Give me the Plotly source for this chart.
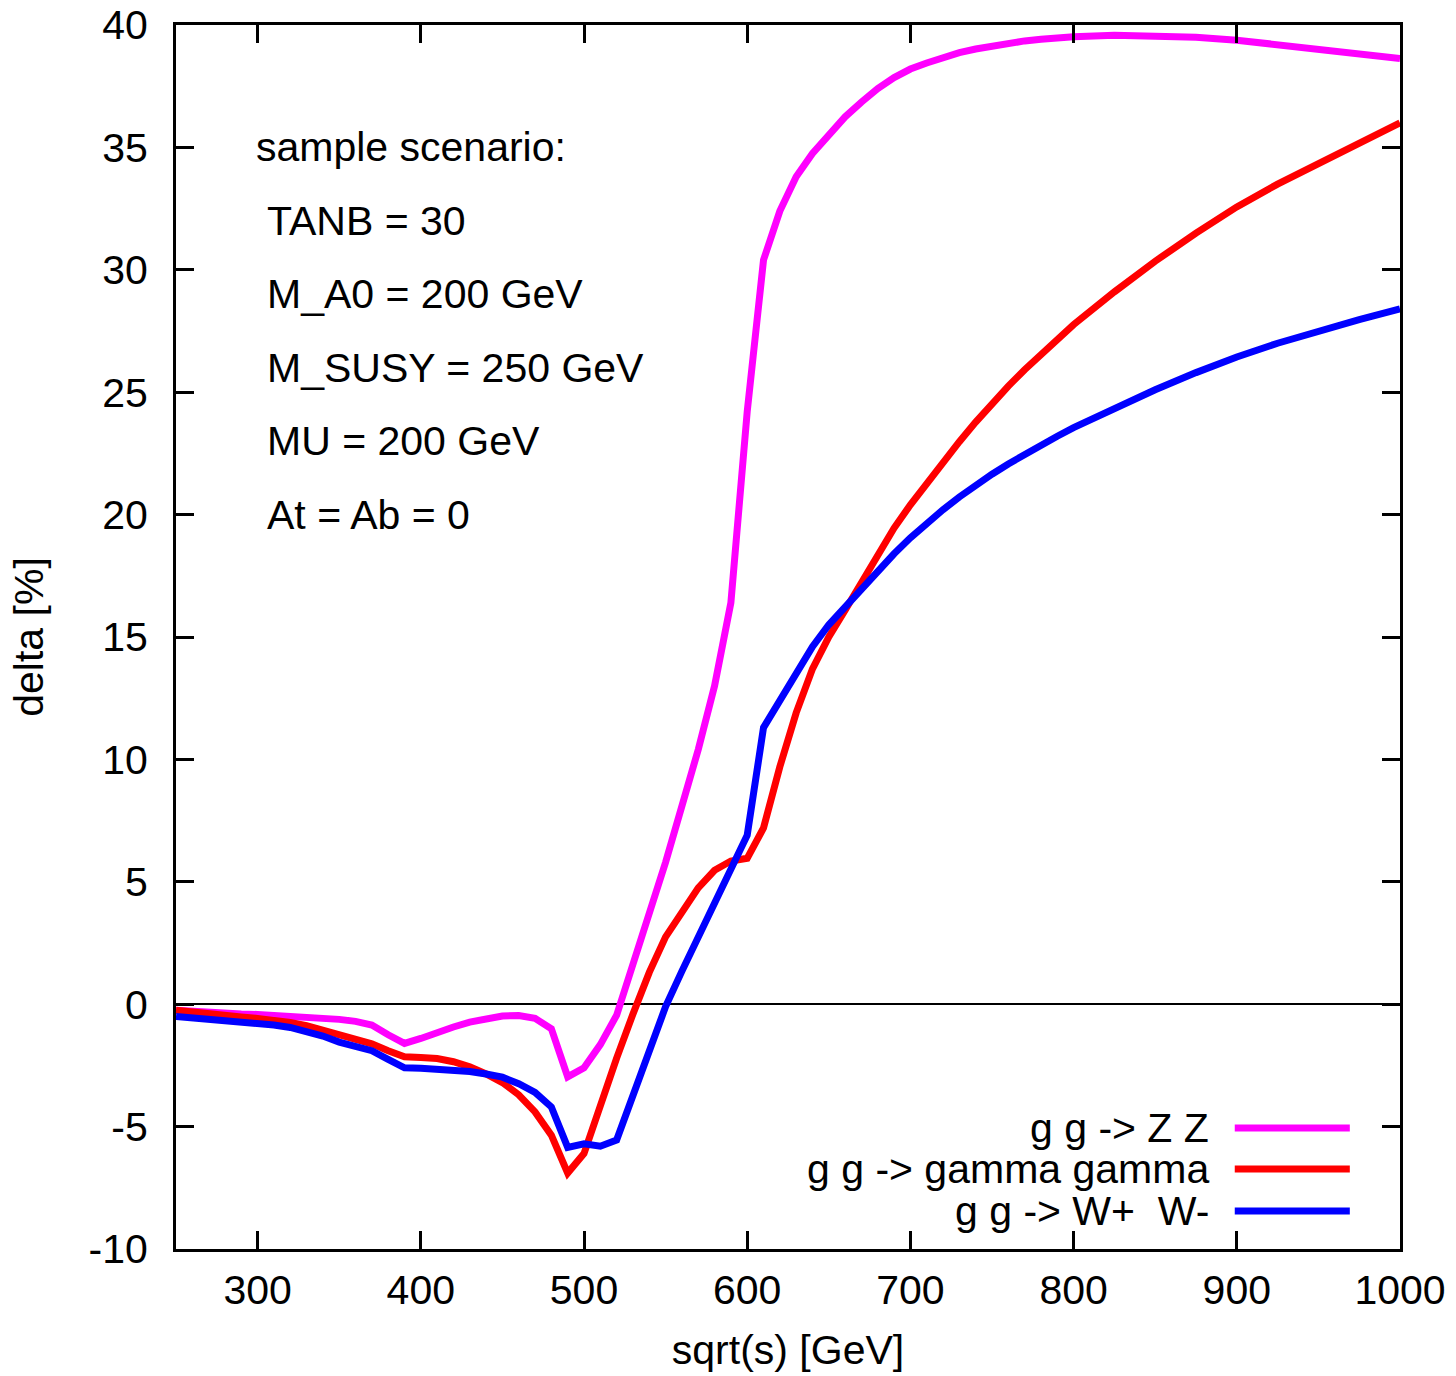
import plotly.graph_objects as go

# sqrt(s) in GeV
sqrt_s = [250, 260, 270, 280, 290, 300, 310, 320, 330, 340, 350, 360, 370, 380, 390,
          400, 410, 420, 430, 440, 450, 460, 470, 480, 490, 500, 510, 520, 530, 540,
          550, 560, 570, 580, 590, 600, 610, 620, 630, 640, 650, 660, 670, 680, 690,
          700, 710, 720, 730, 740, 750, 760, 770, 780, 790, 800,
          825, 850, 875, 900, 925, 950, 975, 1000]

# delta [%] for g g -> Z Z
delta_zz = [-0.25, -0.3, -0.33, -0.37, -0.4, -0.42, -0.45, -0.48, -0.52, -0.56, -0.62, -0.7, -0.85, -1.25, -1.6,
            -1.4, -1.15, -0.93, -0.73, -0.57, -0.48, -0.46, -0.58, -1.0, -2.97, -2.6, -1.65, -0.45, 1.6, 3.7,
            5.8, 8.1, 10.4, 13.0, 16.4, 24.2, 30.4, 32.4, 33.8, 34.75, 35.55, 36.25, 36.85, 37.4, 37.85,
            38.2, 38.45, 38.68, 38.87, 39.02, 39.15, 39.26, 39.35, 39.42, 39.48, 39.52,
            39.58, 39.57, 39.5, 39.38, 39.2, 39.0, 38.82, 38.63]

# delta [%] for g g -> gamma gamma
delta_aa = [-0.25, -0.3, -0.38, -0.46, -0.52, -0.58, -0.65, -0.75, -0.88, -1.05, -1.25, -1.42, -1.62, -1.9, -2.15,
            -2.18, -2.22, -2.35, -2.56, -2.85, -3.2, -3.7, -4.4, -5.35, -6.9, -6.1, -4.1, -2.2, -0.4, 1.3,
            2.75, 3.8, 4.75, 5.47, 5.85, 5.96, 7.2, 9.7, 11.9, 13.7, 15.0, 16.1, 17.2, 18.4, 19.45,
            20.4, 21.3, 22.15, 22.98, 23.78, 24.55, 25.25, 25.92, 26.56, 27.17, 27.76,
            29.1, 30.35, 31.5, 32.57, 33.5, 34.35, 35.2, 36.0]

# delta [%] for g g -> W+ W-
delta_ww = [-0.5, -0.55, -0.6, -0.65, -0.72, -0.78, -0.85, -0.95, -1.1, -1.3, -1.55, -1.72, -1.9, -2.25, -2.6,
            -2.62, -2.64, -2.68, -2.75, -2.85, -2.98, -3.25, -3.6, -4.2, -5.85, -5.7, -5.8, -5.55, -3.7, -1.9,
            -0.1, 1.35, 2.75, 4.1, 5.5, 6.9, 11.3, 12.4, 13.55, 14.6, 15.5, 16.25, 17.0, 17.7, 18.4,
            19.05, 19.65, 20.2, 20.72, 21.2, 21.65, 22.07, 22.47, 22.85, 23.2, 23.55,
            24.35, 25.1, 25.8, 26.44, 27.0, 27.5, 27.96, 28.4]

series_names = ["g g -> Z Z", "g g -> gamma gamma", "g g -> W+  W-"]
series_colors = ["#ff00ff", "#ff0000", "#0000ff"]
series_values = [delta_zz, delta_aa, delta_ww]

x_ticks = [300, 400, 500, 600, 700, 800, 900, 1000]
y_ticks = [-10, -5, 0, 5, 10, 15, 20, 25, 30, 35, 40]

scenario_lines = ["sample scenario:", "TANB = 30", "M_A0 = 200 GeV", "M_SUSY = 250 GeV",
                  "MU = 200 GeV", "At = Ab = 0"]
scenario_x = [300, 307.5, 307.5, 307.5, 307.5, 307.5]
scenario_y = [35, 32, 29, 26, 23, 20]

FONT = "Liberation Sans, Arial, Helvetica, sans-serif"
FS = 41
LW = 7

fig = go.Figure()
for name, col, vals in zip(series_names, series_colors, series_values):
    fig.add_trace(go.Scatter(x=sqrt_s, y=vals, mode="lines", name=name,
                             line=dict(color=col, width=LW), showlegend=False))

axis_common = dict(showgrid=False, ticks="inside", ticklen=18, tickwidth=2.5, tickcolor="black",
                   showline=True, linecolor="black", linewidth=3, mirror="ticks",
                   ticklabeloverflow="allow",
                   tickfont=dict(family=FONT, size=FS, color="black"))

fig.update_xaxes(range=[250, 1000], tickvals=x_ticks, ticktext=[str(v) for v in x_ticks],
                 title=dict(text="sqrt(s) [GeV]", font=dict(family=FONT, size=FS, color="black"), standoff=24),
                 ticklabelstandoff=3, zeroline=False, **axis_common)
fig.update_yaxes(range=[-10, 40], tickvals=y_ticks, ticktext=[str(v) for v in y_ticks],
                 title=dict(text="delta [%]", font=dict(family=FONT, size=FS, color="black"), standoff=33),
                 ticklabelstandoff=17, zeroline=True, zerolinecolor="black", zerolinewidth=1.5,
                 **axis_common)

annotations = []
for i, (txt, xv, yv) in enumerate(zip(scenario_lines, scenario_x, scenario_y)):
    annotations.append(dict(x=xv, y=yv, xref="x", yref="y", text=txt, showarrow=False,
                            xanchor="left", yanchor="middle", xshift=-4 if i == 0 else -5,
                            font=dict(family=FONT, size=FS, color="black")))

# manual legend (text on the left, line sample on the right, as in the original)
legend_y = [0.0989, 0.0654, 0.031]
shapes = []
for name, col, ly in zip(series_names, series_colors, legend_y):
    annotations.append(dict(x=0.843, y=ly, xref="paper", yref="paper", text=name.replace("  ", "&nbsp; "),
                            showarrow=False, xanchor="right", yanchor="middle", xshift=3,
                            font=dict(family=FONT, size=FS, color="black")))
    shapes.append(dict(type="line", xref="paper", yref="paper", x0=0.865, x1=0.959, y0=ly, y1=ly,
                       line=dict(color=col, width=LW)))

# frame at 176..1400 x 25..1249 (page body margin removed below)
fig.update_layout(width=1456, height=1376,
                  margin=dict(l=176, r=56, t=25, b=127, autoexpand=False),
                  paper_bgcolor="white", plot_bgcolor="white",
                  font=dict(family=FONT, size=FS, color="black"),
                  annotations=annotations, shapes=shapes, showlegend=False)

fig.write_html("out.html", config={"displayModeBar": False},
               post_script="document.body.style.margin='0';document.body.style.padding='0';")
